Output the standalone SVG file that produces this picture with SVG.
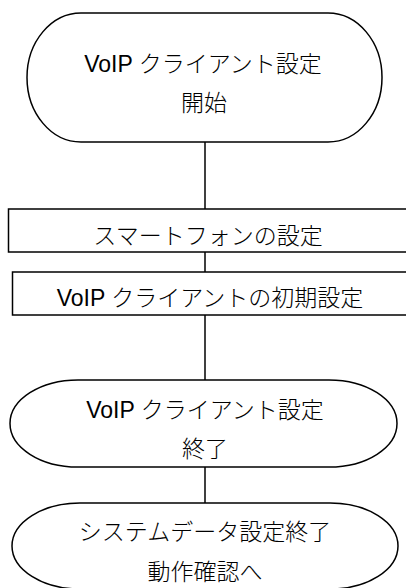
<svg xmlns="http://www.w3.org/2000/svg" width="406" height="588" viewBox="0 0 406 588">
<style>
.s{fill:#fff;stroke:#000;stroke-width:1.5}
.t{font-family:"Liberation Sans","Noto Sans CJK JP",sans-serif;font-size:23px;font-weight:300;fill:#000;text-anchor:middle}
.c{stroke:#000;stroke-width:1.5;fill:none}
</style>
<g id="connectors">
<line class="c" x1="205" y1="142" x2="205" y2="209"/>
<line class="c" x1="205" y1="252" x2="205" y2="272"/>
<line class="c" x1="205" y1="315" x2="205" y2="380"/>
<line class="c" x1="205" y1="467" x2="205" y2="503"/>
</g>
<g id="start">
<rect class="s" x="27" y="13" width="355" height="129" rx="54" ry="64.5"/>
<text class="t" x="203" y="72">VoIP クライアント設定</text>
<text class="t" x="204" y="111">開始</text>
</g>
<g id="smartphone">
<rect class="s" x="8.5" y="209" width="410" height="43"/>
<text class="t" x="208" y="244">スマートフォンの設定</text>
</g>
<g id="voip-init">
<rect class="s" x="12.5" y="272" width="410" height="43"/>
<text class="t" x="210" y="306">VoIP クライアントの初期設定</text>
</g>
<g id="end1">
<rect class="s" x="10" y="380" width="387" height="87" rx="68" ry="43.5"/>
<text class="t" x="205" y="418">VoIP クライアント設定</text>
<text class="t" x="205" y="457">終了</text>
</g>
<g id="end2">
<rect class="s" x="12" y="503" width="386" height="86" rx="68" ry="43"/>
<text class="t" x="205" y="540">システムデータ設定終了</text>
<text class="t" x="205" y="580">動作確認へ</text>
</g>
</svg>
